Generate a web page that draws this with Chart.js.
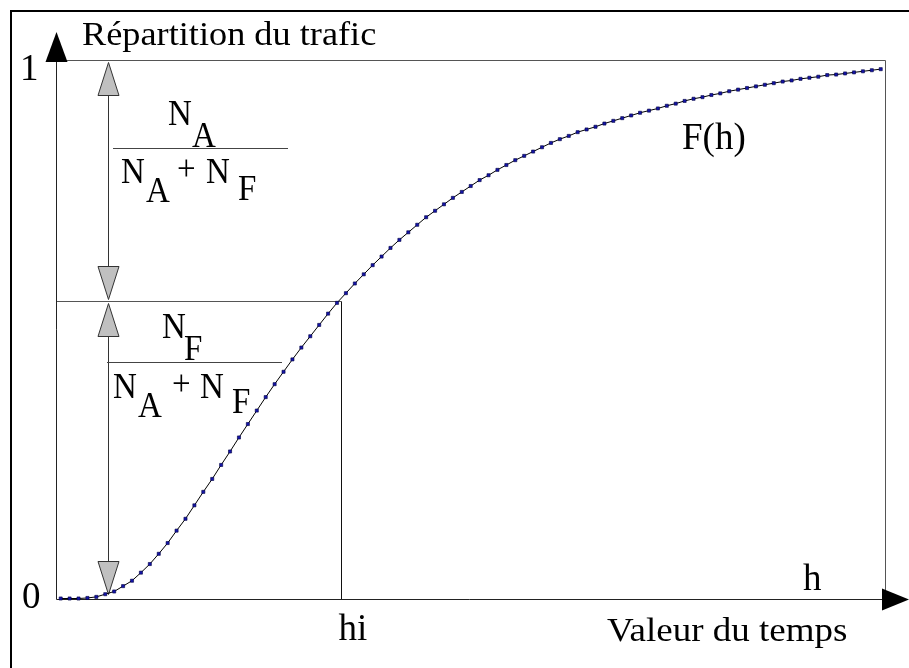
<!DOCTYPE html>
<html>
<head>
<meta charset="utf-8">
<script src="https://cdn.jsdelivr.net/npm/chart.js@4"></script>
<style>
  body { margin: 0; background: #fff; }
  #myChart { display: block; }
</style>
</head>
<body>
<canvas id="myChart" width="909" height="668"></canvas>
<script>
// F(h), one value per plotted point (93 points)
const fValues = [
  0, 0, 0, 0.001, 0.003, 0.008, 0.013, 0.023, 0.033, 0.048,
  0.064, 0.083, 0.103, 0.126, 0.148, 0.173, 0.198, 0.222, 0.248, 0.273,
  0.299, 0.324, 0.349, 0.374, 0.398, 0.421, 0.444, 0.466, 0.487, 0.508,
  0.529, 0.549, 0.567, 0.585, 0.602, 0.619, 0.635, 0.651, 0.666, 0.68,
  0.694, 0.708, 0.72, 0.732, 0.744, 0.755, 0.766, 0.777, 0.786, 0.796,
  0.805, 0.814, 0.822, 0.83, 0.838, 0.846, 0.853, 0.859, 0.866, 0.871,
  0.876, 0.882, 0.887, 0.892, 0.897, 0.902, 0.906, 0.91, 0.915, 0.919,
  0.924, 0.928, 0.931, 0.935, 0.938, 0.942, 0.945, 0.948, 0.951, 0.954,
  0.957, 0.96, 0.962, 0.965, 0.967, 0.969, 0.972, 0.973, 0.975, 0.977,
  0.979, 0.981, 0.983
];
const hSteps = fValues.map((v, i) => i);

const yTicks = ["0", "1"];
const hi = 31.45;        // hi on the h axis
const fHi = 0.553;       // F(hi)
const arrowH = 5.3;      // h where the double arrows stand
const fArrow = 0.008;    // F at that h

const serif = "'Liberation Serif', 'DejaVu Serif', serif";

// text drawn with a vertical stretch (the picture's glyphs are not square)
function stretchText(c, t, x, y, sy) {
  c.save();
  c.translate(x, y);
  c.scale(1, sy);
  c.fillText(t, 0, 0);
  c.restore();
}

const decor = {
  id: "decor",
  beforeDraw(chart) {
    const c = chart.ctx;
    c.save();
    c.fillStyle = "#fff";
    c.fillRect(0, 0, chart.width, chart.height);
    c.restore();
  },
  beforeDatasetsDraw(chart) {
    const c = chart.ctx;
    const xs = chart.scales.x, ys = chart.scales.y;
    const px = v => Math.round(xs.getPixelForValue(v)) + 0.5;
    const py = v => Math.round(ys.getPixelForValue(v)) + 0.5;
    const x0 = px(xs.min), x1 = px(xs.max);
    const y0 = py(0), y1 = py(1);
    const xHi = px(hi), yHi = py(fHi);
    const xa = px(arrowH);

    c.save();
    // frame (left and top edges only)
    c.strokeStyle = "#000";
    c.lineWidth = 2;
    c.beginPath();
    c.moveTo(11, chart.height);
    c.lineTo(11, 11);
    c.lineTo(chart.width, 11);
    c.stroke();

    c.lineWidth = 1;
    // box lines at F = 1 and right side
    c.strokeStyle = "#555";
    c.beginPath();
    c.moveTo(x0, y1); c.lineTo(x1, y1);
    c.moveTo(x1, y1); c.lineTo(x1, y0);
    c.stroke();

    // F(hi) horizontal and hi vertical
    c.strokeStyle = "#555";
    c.beginPath();
    c.moveTo(x0, yHi); c.lineTo(xHi, yHi);
    c.stroke();
    c.strokeStyle = "#111";
    c.beginPath();
    c.moveTo(xHi, yHi); c.lineTo(xHi, y0);
    c.stroke();

    // axes
    c.strokeStyle = "#222";
    c.beginPath();
    c.moveTo(x0, y0); c.lineTo(x0, 60);
    c.moveTo(x0, y0); c.lineTo(chart.width - 26, y0);
    c.stroke();
    c.fillStyle = "#000";
    c.beginPath();
    c.moveTo(x0, 32); c.lineTo(x0 - 11, 62); c.lineTo(x0 + 11, 62); c.closePath();
    c.fill();
    c.beginPath();
    c.moveTo(chart.width, y0); c.lineTo(chart.width - 27, y0 - 11); c.lineTo(chart.width - 27, y0 + 11); c.closePath();
    c.fill();

    // double arrows
    const head = (tipY, dir) => {
      c.beginPath();
      c.moveTo(xa, tipY);
      c.lineTo(xa - 10.5, tipY + dir * 33);
      c.lineTo(xa + 10.5, tipY + dir * 33);
      c.closePath();
      c.fillStyle = "#c0c0c0";
      c.fill();
      c.strokeStyle = "#333";
      c.stroke();
    };
    const yArrow = py(fArrow);
    c.strokeStyle = "#333";
    c.beginPath();
    c.moveTo(xa, y1 + 34); c.lineTo(xa, yHi - 34);
    c.moveTo(xa, yHi + 34); c.lineTo(xa, yArrow - 32);
    c.stroke();
    head(y1 + 2, 1);
    head(yHi - 2, -1);
    head(yHi + 2, 1);
    head(yArrow, -1);

    // fraction bars
    c.strokeStyle = "#444";
    c.beginPath();
    c.moveTo(113, 148.5); c.lineTo(288, 148.5);
    c.moveTo(107, 362.5); c.lineTo(282, 362.5);
    c.stroke();

    // texts
    c.fillStyle = "#000";
    c.textBaseline = "alphabetic";
    c.font = "36.3px " + serif;
    stretchText(c, "Répartition du trafic", 82, 45, 0.9);
    c.font = "37px " + serif;
    c.fillText(yTicks[1], 20, y1 + 19);
    c.fillText(yTicks[0], 22, y0 + 8);
    c.fillText("hi", xHi - 3, 640);
    c.fillText("h", 803, 590);
    stretchText(c, "Valeur du temps", 607, 641, 0.92);
    c.fillText("F(h)", 682, 149);

    c.font = "33px " + serif;
    const sy = 1.08;
    // N_A / (N_A + N_F)
    stretchText(c, "N", 168, 125, sy);
    stretchText(c, "A", 192, 147, sy);
    stretchText(c, "N", 121, 183, sy);
    stretchText(c, "A", 146, 202, sy);
    stretchText(c, "+", 177, 180, sy);
    stretchText(c, "N", 206, 183, sy);
    stretchText(c, "F", 238, 200, sy);
    // N_F / (N_A + N_F)
    stretchText(c, "N", 162, 338, sy);
    stretchText(c, "F", 184, 360, sy);
    stretchText(c, "N", 113, 398, sy);
    stretchText(c, "A", 138, 417, sy);
    stretchText(c, "+", 172, 395, sy);
    stretchText(c, "N", 200, 398, sy);
    stretchText(c, "F", 232, 413, sy);
    c.restore();
  }
};

function draw() {
  const ctx = document.getElementById("myChart").getContext("2d");
  new Chart(ctx, {
    type: "line",
    data: {
      datasets: [
        {
          label: "F(h)",
          data: hSteps.map((h, i) => ({ x: h, y: fValues[i] })),
          borderColor: "#000",
          borderWidth: 1,
          tension: 0,
          clip: false,
          pointStyle: "rect",
          pointRadius: 2.2,
          pointBackgroundColor: "#1414a8",
          pointBorderColor: "#000040",
          pointBorderWidth: 0.6,
        },
      ],
    },
    options: {
      responsive: false,
      animation: false,
      devicePixelRatio: 1,
      layout: { padding: { left: 56, right: 24, top: 60, bottom: 69.5 } },
      scales: {
        x: { type: "linear", display: false, min: -0.527, max: 92.48 },
        y: { display: false, min: 0, max: 1 },
      },
      plugins: {
        legend: { display: false },
        tooltip: { enabled: false },
      },
    },
    plugins: [decor],
  });
}

Promise.all([
  document.fonts.load("37px 'Liberation Serif'"),
  document.fonts.load("33px 'Liberation Serif'"),
]).then(draw, draw);
</script>
</body>
</html>
